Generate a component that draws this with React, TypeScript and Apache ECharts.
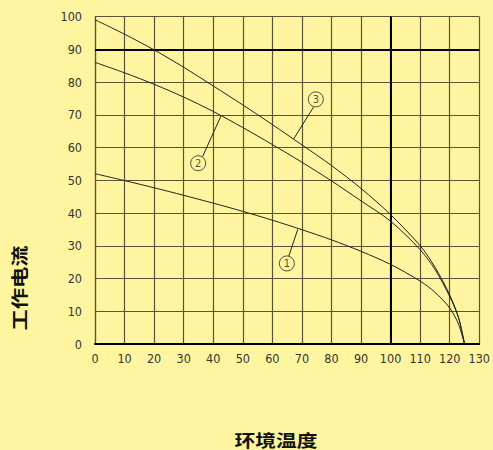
import React, { useEffect, useRef } from "react";
import * as echarts from "echarts";

const xTicks = [0, 10, 20, 30, 40, 50, 60, 70, 80, 90, 100, 110, 120, 130];
const yTicks = [0, 10, 20, 30, 40, 50, 60, 70, 80, 90, 100];

const curve1X = [0, 10, 20, 30, 40, 50, 60, 70, 80, 90, 100, 110, 115, 120, 123, 125];
const curve1Y = [52, 49.9, 47.7, 45.4, 43, 40.5, 37.8, 34.9, 31.8, 28.3, 24.3, 19.2, 15.8, 11, 6, 0];

const curve2X = [0, 10, 20, 30, 40, 50, 60, 70, 80, 90, 100, 110, 115, 120, 123, 125];
const curve2Y = [86, 82.8, 79.3, 75.4, 71, 66.1, 60.9, 55.5, 49.8, 43.7, 37.5, 28.8, 22.8, 14.5, 8, 0];

const curve3X = [0, 10, 20, 30, 40, 50, 60, 70, 80, 90, 100, 110, 115, 120, 123, 125];
const curve3Y = [99, 94.6, 89.8, 84.5, 78.8, 73, 67, 60.8, 54.5, 47.5, 39.5, 30, 23.5, 15, 8, 0];

const labelNames = ["1", "2", "3"];
const labelPos = [
  [64.9, 24.6],
  [34.9, 55.2],
  [74.7, 74.7],
];
const leaders = [
  [[65.5, 26.7], [68.6, 35.0]],
  [[36.4, 57.2], [42.6, 69.6]],
  [[73.9, 72.3], [67.2, 62.6]],
];

const thickX = 100;
const thickY = 90;

const BG = "#fff5a0";
const GRID = "#5a5535";
const FONT = "'DejaVu Sans Condensed', 'Liberation Sans Narrow', 'DejaVu Sans', sans-serif";

function zip(xs: number[], ys: number[]) {
  return xs.map((x, i) => [x, ys[i]]);
}

export default function App() {
  const ref = useRef<HTMLDivElement>(null);
  useEffect(() => {
    document.body.style.margin = "0";
    const chart = echarts.init(ref.current!, null, { renderer: "svg" });
    const curveStyle = { color: "#222", width: 1 };
    const series: any[] = [
      { data: zip(curve1X, curve1Y) },
      { data: zip(curve2X, curve2Y) },
      { data: zip(curve3X, curve3Y) },
    ].map((s) => ({
      type: "line",
      data: s.data,
      smooth: 0.3,
      showSymbol: false,
      lineStyle: curveStyle,
      z: 5,
    }));
    leaders.forEach((l) => {
      series.push({
        type: "line",
        data: l,
        showSymbol: false,
        lineStyle: { color: "#222", width: 1 },
        z: 5,
      });
    });
    series.push({
      type: "scatter",
      data: labelPos.map((p, i) => ({ value: p, name: labelNames[i] })),
      symbol: "circle",
      symbolSize: 15,
      itemStyle: { color: BG, borderColor: "#222", borderWidth: 1 },
      label: {
        show: true,
        position: "inside",
        formatter: (p: any) => p.name,
        color: "#222",
        fontSize: 11,
        fontFamily: FONT,
      },
      z: 6,
    });
    series.push({
      type: "line",
      data: [],
      markLine: {
        silent: true,
        symbol: "none",
        label: { show: false },
        lineStyle: { color: "#000", width: 2, type: "solid" },
        data: [{ xAxis: thickX }, { yAxis: thickY }],
      },
    });

    const titleStyle = {
      fontSize: 17,
      fontWeight: "bold",
      fontFamily: "'Noto Sans CJK SC', sans-serif",
      fill: "#111",
      textAlign: "center",
      textVerticalAlign: "middle",
    };

    chart.setOption({
      animation: false,
      backgroundColor: BG,
      grid: { left: 95, right: 11, top: 16.5, bottom: 106, show: false },
      xAxis: {
        type: "value",
        min: xTicks[0],
        max: xTicks[xTicks.length - 1],
        interval: 10,
        axisLine: { show: true, lineStyle: { color: "#000", width: 2 } },
        axisTick: { show: false },
        axisLabel: { color: "#333", fontSize: 12.5, fontFamily: FONT, margin: 8 },
        splitLine: { show: true, lineStyle: { color: GRID, width: 1.2 } },
      },
      yAxis: {
        type: "value",
        min: yTicks[0],
        max: yTicks[yTicks.length - 1],
        interval: 10,
        axisLine: { show: true, lineStyle: { color: GRID, width: 1.2 } },
        axisTick: { show: false },
        axisLabel: { color: "#333", fontSize: 12.5, fontFamily: FONT, margin: 13 },
        splitLine: { show: true, lineStyle: { color: GRID, width: 1.2 } },
      },
      graphic: [
        {
          type: "text",
          x: 19,
          y: 288,
          rotation: Math.PI / 2,
          scaleX: 1.25,
          style: { ...titleStyle, text: "工作电流" },
        },
        {
          type: "text",
          x: 276,
          y: 439,
          scaleX: 1.22,
          style: { ...titleStyle, text: "环境温度" },
        },
      ],
      series,
    });
    return () => chart.dispose();
  }, []);
  return <div ref={ref} style={{ width: 493, height: 450 }} />;
}
